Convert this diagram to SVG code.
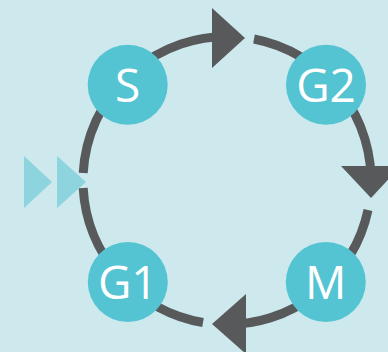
<svg xmlns="http://www.w3.org/2000/svg" width="388" height="352" viewBox="0 0 388 352">
<style>
.ring{fill:none;stroke:#58595b;stroke-width:9}
.head{fill:#58595b}
.ff{fill:#8dd4df}
.node{fill:#55c4d2}
.lbl{fill:#ffffff;font-family:"Open Sans","Noto Sans","Liberation Sans",sans-serif;font-size:46px;text-anchor:middle}
</style>
<rect width="388" height="352" fill="#cde9ee"/>
<g id="connectors">
<path class="ring" d="M 83.2 173 A 144 144 0 0 1 234.5 36.7"/>
<path class="ring" d="M 254 39 A 144 144 0 0 1 370.8 188"/>
<path class="ring" d="M 368 210 A 144 144 0 0 1 222 324.4"/>
<path class="ring" d="M 203 322.5 A 144 144 0 0 1 83.2 188"/>
<polygon class="head" points="212,8 245,38 212,68"/>
<polygon class="head" points="341,166 401,166 371,198"/>
<polygon class="head" points="246,294 246,354 212,324"/>
</g>
<g id="input">
<polygon class="ff" points="24,156 52,182 24,208"/>
<polygon class="ff" points="57,156 86,182 57,208"/>
</g>
<g id="node-S">
<circle class="node" cx="127.7" cy="84.7" r="40"/>
<text class="lbl" x="127.7" y="101.5">S</text>
</g>
<g id="node-G2">
<circle class="node" cx="326" cy="84.7" r="40"/>
<text class="lbl" x="326" y="101.5">G2</text>
</g>
<g id="node-G1">
<circle class="node" cx="127.8" cy="282" r="40"/>
<text class="lbl" x="127.8" y="299">G1</text>
</g>
<g id="node-M">
<circle class="node" cx="325.8" cy="282" r="40"/>
<text class="lbl" x="325.8" y="299">M</text>
</g>
</svg>
